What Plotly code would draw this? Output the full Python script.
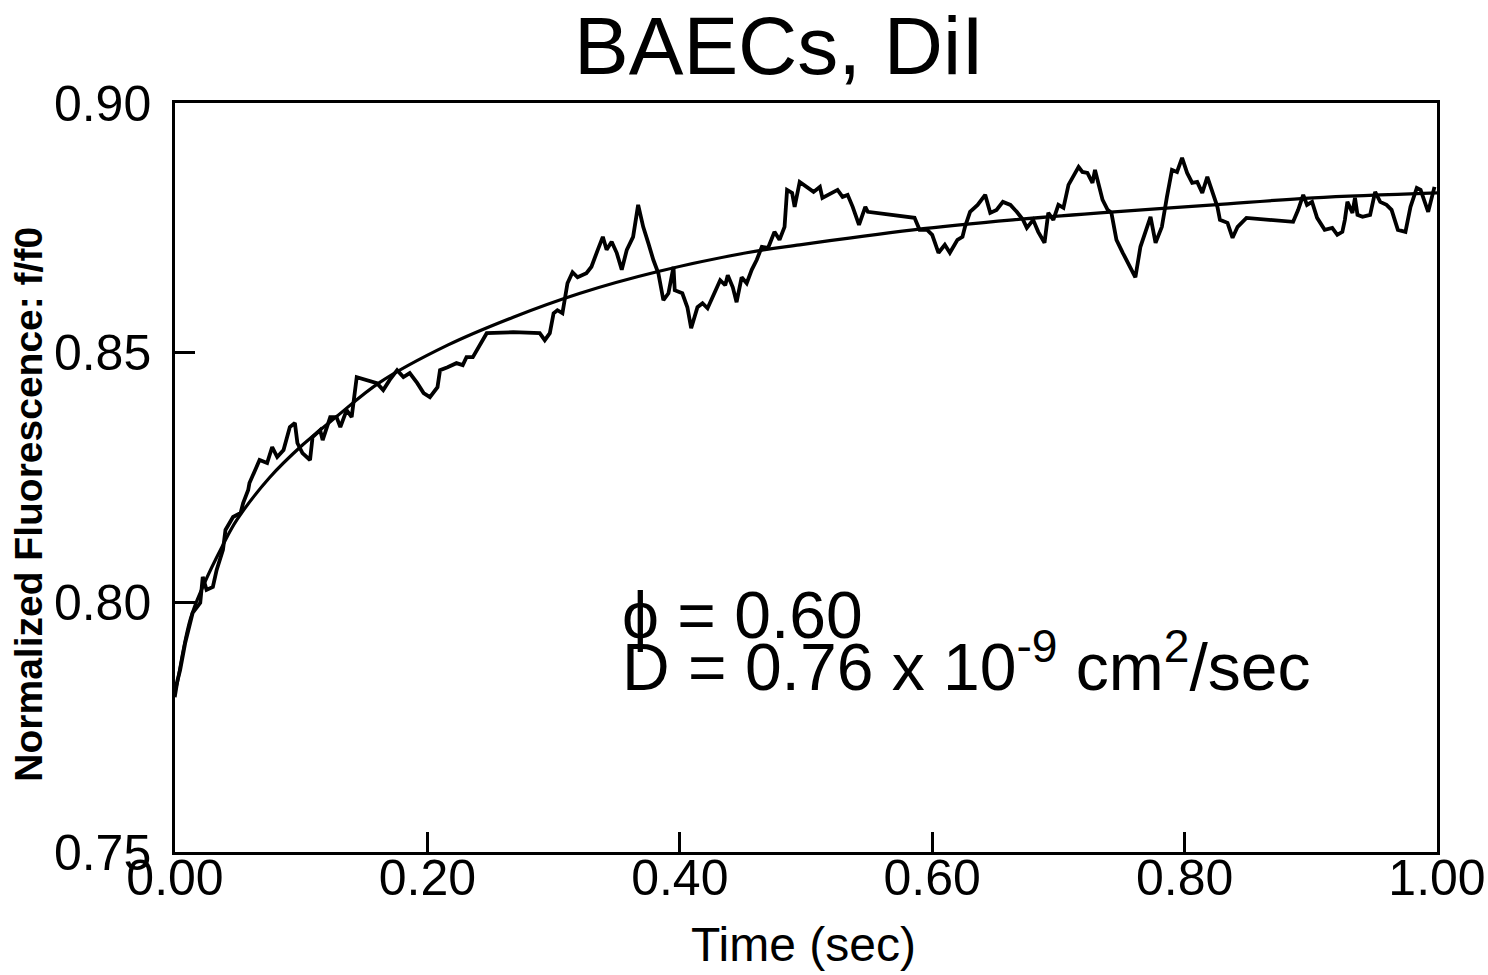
import plotly.graph_objects as go

# Measured (noisy) recovery trace
time_meas = [0.000, 0.004, 0.008, 0.012, 0.014, 0.020, 0.022, 0.025, 0.030, 0.033,
             0.038, 0.040, 0.046, 0.052, 0.054, 0.058, 0.059, 0.067, 0.073, 0.077,
             0.081, 0.086, 0.091, 0.095, 0.097, 0.101, 0.107, 0.109, 0.115, 0.117,
             0.123, 0.128, 0.131, 0.136, 0.140, 0.144, 0.152, 0.160, 0.165, 0.170,
             0.176, 0.181, 0.186, 0.192, 0.197, 0.202, 0.208, 0.210, 0.216, 0.220,
             0.223, 0.228, 0.231, 0.236, 0.239, 0.242, 0.247, 0.268, 0.289, 0.293,
             0.297, 0.300, 0.303, 0.307, 0.311, 0.315, 0.319, 0.326, 0.330, 0.335,
             0.339, 0.342, 0.346, 0.350, 0.354, 0.358, 0.363, 0.367, 0.371, 0.375,
             0.379, 0.383, 0.387, 0.391, 0.395, 0.396, 0.402, 0.406, 0.409, 0.414,
             0.418, 0.422, 0.426, 0.432, 0.436, 0.438, 0.442, 0.445, 0.449, 0.453,
             0.457, 0.461, 0.465, 0.470, 0.475, 0.479, 0.483, 0.485, 0.489, 0.491,
             0.495, 0.501, 0.506, 0.511, 0.513, 0.525, 0.529, 0.533, 0.537, 0.542,
             0.547, 0.549, 0.586, 0.590, 0.596, 0.600, 0.605, 0.610, 0.614, 0.620,
             0.624, 0.626, 0.630, 0.636, 0.642, 0.646, 0.651, 0.656, 0.662, 0.667,
             0.672, 0.675, 0.680, 0.684, 0.689, 0.692, 0.696, 0.700, 0.704, 0.708,
             0.716, 0.719, 0.723, 0.727, 0.729, 0.735, 0.739, 0.742, 0.746, 0.751,
             0.757, 0.761, 0.765, 0.770, 0.773, 0.777, 0.782, 0.786, 0.790, 0.794,
             0.798, 0.802, 0.806, 0.810, 0.814, 0.818, 0.822, 0.826, 0.828, 0.834,
             0.838, 0.842, 0.849, 0.886, 0.890, 0.894, 0.897, 0.901, 0.905, 0.911,
             0.917, 0.921, 0.925, 0.927, 0.929, 0.933, 0.935, 0.937, 0.941, 0.947,
             0.951, 0.955, 0.960, 0.964, 0.969, 0.975, 0.979, 0.984, 0.987, 0.991,
             0.993, 0.996, 0.998]
fluor_meas = [0.7824, 0.7864, 0.7918, 0.7958, 0.7979, 0.7999, 0.8051, 0.8025, 0.8031, 0.8065,
              0.8105, 0.8145, 0.8171, 0.8179, 0.8199, 0.8225, 0.8239, 0.8285, 0.8279, 0.8311,
              0.8291, 0.8305, 0.8351, 0.8359, 0.8319, 0.8299, 0.8285, 0.8331, 0.8345, 0.8325,
              0.8371, 0.8371, 0.8351, 0.8385, 0.8371, 0.8451, 0.8445, 0.8439, 0.8425, 0.8445,
              0.8465, 0.8451, 0.8459, 0.8439, 0.8419, 0.8411, 0.8431, 0.8465, 0.8471, 0.8475,
              0.8479, 0.8475, 0.8491, 0.8491, 0.8505, 0.8519, 0.8539, 0.8541, 0.8539, 0.8525,
              0.8539, 0.8579, 0.8585, 0.8579, 0.8639, 0.8661, 0.8651, 0.8659, 0.8672, 0.8706,
              0.8732, 0.8706, 0.8722, 0.8700, 0.8666, 0.8706, 0.8732, 0.8796, 0.8752, 0.8720,
              0.8686, 0.8659, 0.8605, 0.8619, 0.8672, 0.8625, 0.8619, 0.8591, 0.8549, 0.8591,
              0.8599, 0.8589, 0.8611, 0.8645, 0.8635, 0.8655, 0.8631, 0.8601, 0.8651, 0.8639,
              0.8666, 0.8686, 0.8712, 0.8710, 0.8742, 0.8726, 0.8752, 0.8826, 0.8820, 0.8792,
              0.8842, 0.8832, 0.8822, 0.8832, 0.8810, 0.8826, 0.8812, 0.8816, 0.8792, 0.8756,
              0.8792, 0.8782, 0.8770, 0.8746, 0.8746, 0.8736, 0.8700, 0.8716, 0.8700, 0.8726,
              0.8732, 0.8752, 0.8782, 0.8796, 0.8816, 0.8780, 0.8786, 0.8802, 0.8796, 0.8782,
              0.8766, 0.8750, 0.8766, 0.8742, 0.8720, 0.8780, 0.8766, 0.8796, 0.8790, 0.8836,
              0.8872, 0.8862, 0.8860, 0.8840, 0.8866, 0.8806, 0.8786, 0.8780, 0.8726, 0.8700,
              0.8672, 0.8651, 0.8712, 0.8752, 0.8772, 0.8720, 0.8752, 0.8812, 0.8866, 0.8862,
              0.8890, 0.8860, 0.8840, 0.8842, 0.8820, 0.8852, 0.8820, 0.8792, 0.8766, 0.8760,
              0.8730, 0.8752, 0.8770, 0.8762, 0.8786, 0.8816, 0.8796, 0.8802, 0.8770, 0.8746,
              0.8750, 0.8736, 0.8742, 0.8766, 0.8802, 0.8780, 0.8810, 0.8776, 0.8772, 0.8776,
              0.8822, 0.8802, 0.8796, 0.8786, 0.8746, 0.8742, 0.8792, 0.8830, 0.8826, 0.8800,
              0.8782, 0.8812, 0.8832]

# Fitted recovery curve
time_fit = [0.000, 0.012, 0.022, 0.038, 0.049, 0.075, 0.101, 0.128, 0.162, 0.216,
            0.268, 0.321, 0.382, 0.453, 0.495, 0.585, 0.664, 0.733, 0.823, 0.902,
            1.000]
fluor_fit = [0.7810, 0.7965, 0.8031, 0.8115, 0.8165, 0.8250, 0.8315, 0.8372, 0.8440, 0.8515,
             0.8571, 0.8619, 0.8662, 0.8700, 0.8716, 0.8746, 0.8766, 0.8780, 0.8796, 0.8810,
             0.8820]

x_tick_vals = [0.0, 0.2, 0.4, 0.6, 0.8, 1.0]
x_tick_text = ["0.00", "0.20", "0.40", "0.60", "0.80", "1.00"]
y_tick_vals = [0.75, 0.80, 0.85, 0.90]
y_tick_text = ["0.75", "0.80", "0.85", "0.90"]

FONT = "Liberation Sans, Arial, sans-serif"

fig = go.Figure()
fig.add_trace(go.Scatter(x=time_meas, y=fluor_meas, mode="lines",
                         line=dict(color="black", width=3.8), showlegend=False))
fig.add_trace(go.Scatter(x=time_fit, y=fluor_fit, mode="lines", line_shape="spline",
                         line=dict(color="black", width=3.2), showlegend=False))

fig.update_layout(
    width=1488, height=975,
    margin=dict(l=175, r=51, t=103, b=123),
    plot_bgcolor="white", paper_bgcolor="white",
    font=dict(family=FONT, color="black"),
    showlegend=False,
)
fig.update_xaxes(range=[0, 1], tickvals=x_tick_vals, ticktext=x_tick_text,
                 ticks="inside", ticklen=20, tickwidth=2.5, tickcolor="black",
                 showline=True, linecolor="black", linewidth=2.5, mirror=True,
                 showgrid=False, zeroline=False, automargin=False,
                 tickfont=dict(size=50, family=FONT), ticklabelstandoff=-20)
fig.update_yaxes(range=[0.75, 0.90], tickvals=y_tick_vals, ticktext=y_tick_text,
                 ticks="inside", ticklen=20, tickwidth=2.5, tickcolor="black",
                 showline=True, linecolor="black", linewidth=2.5, mirror=True,
                 showgrid=False, zeroline=False, automargin=False,
                 tickfont=dict(size=50, family=FONT), ticklabelstandoff=11)

fig.add_annotation(text="BAECs, DiI", xref="paper", yref="paper", x=0.479, y=1.077,
                   xanchor="center", yanchor="middle", showarrow=False,
                   font=dict(size=82, family=FONT))
fig.add_annotation(text="Time (sec)", xref="paper", yref="paper", x=0.498, y=-0.124,
                   xanchor="center", yanchor="middle", showarrow=False,
                   font=dict(size=48, family=FONT))
fig.add_annotation(text="<b>Normalized Fluorescence: f/f0</b>", xref="paper", yref="paper",
                   x=-0.1157, y=0.465, xanchor="center", yanchor="middle", textangle=-90,
                   showarrow=False, font=dict(size=39, family=FONT))
fig.add_annotation(text="ϕ = 0.60", xref="x", yref="y", x=0.353, y=0.7975,
                   xanchor="left", yanchor="middle", showarrow=False,
                   font=dict(size=66, family=FONT))
fig.add_annotation(text="D = 0.76 x 10<sup>-9</sup> cm<sup>2</sup>/sec", xref="x", yref="y",
                   x=0.353, y=0.7881, xanchor="left", yanchor="middle", showarrow=False,
                   font=dict(size=66, family=FONT))

fig.write_html("out.html")
